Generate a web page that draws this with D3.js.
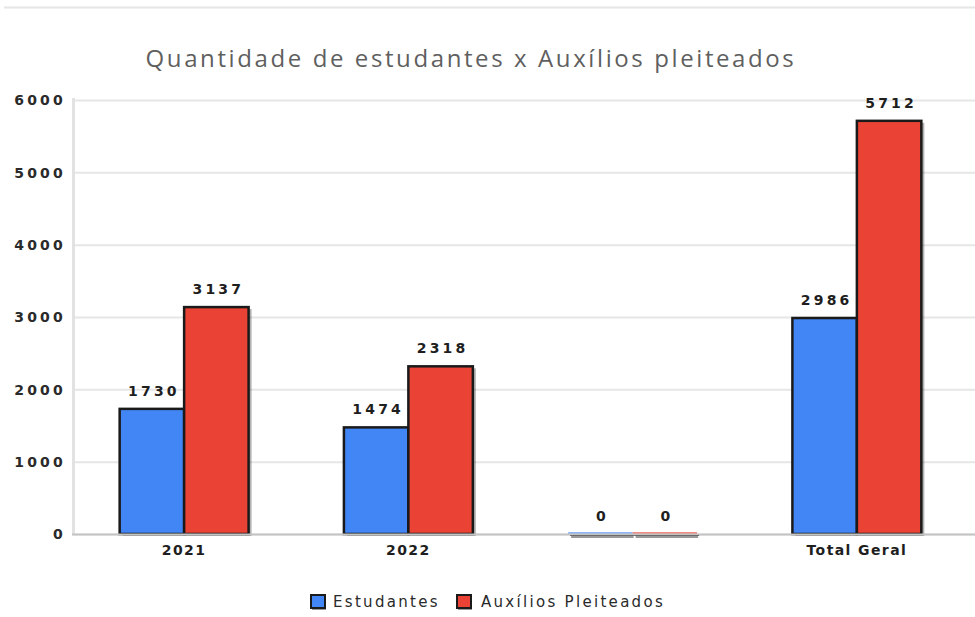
<!DOCTYPE html>
<html><head><meta charset="utf-8">
<script src="https://cdn.jsdelivr.net/npm/d3@7"></script>
<style>
body{margin:0;background:#fff;}
svg{display:block;}
</style></head><body>
<svg id="c" width="975" height="617"></svg>
<script>
const categories = ["2021", "2022", "", "Total Geral"];
const seriesNames = ["Estudantes", "Auxílios Pleiteados"];
const estudantes = [1730, 1474, 0, 2986];
const auxilios = [3137, 2318, 0, 5712];
const yTicks = [0, 1000, 2000, 3000, 4000, 5000, 6000];
const colors = ["#4285f4", "#ea4335"];

(function(){
const svg = d3.select("#c");
const W = 975, H = 617;
const mLeft = 72, mRight = 969, mTop = 100, mBottom = 534;

const x = d3.scaleBand().domain(categories).range([mLeft, mRight]).paddingInner(0.425).paddingOuter(0.2125);
const xs = d3.scaleBand().domain(seriesNames).range([0, x.bandwidth()]);
const y = d3.scaleLinear().domain([0, 6000]).range([mBottom, mTop]);

// top border
svg.append("line").attr("x1", 4).attr("x2", W).attr("y1", 7.5).attr("y2", 7.5)
  .attr("stroke", "#e6e6e6").attr("stroke-width", 2);

// title
svg.append("text").attr("x", 471).attr("y", 67).attr("text-anchor", "middle")
  .attr("font-family", "Open Sans, sans-serif").attr("font-size", 24).attr("fill", "#5f5f5f")
  .attr("letter-spacing", 2.6)
  .text("Quantidade de estudantes x Auxílios pleiteados");

// gridlines & y axis
const yAxis = d3.axisLeft(y).tickValues(yTicks).tickSize(-(W - mLeft)).tickFormat(d3.format("d"));
const ga = svg.append("g").attr("transform", `translate(${mLeft},0)`).call(yAxis);
ga.select(".domain").remove();
ga.selectAll(".tick line").attr("stroke", "#e6e6e6").attr("stroke-width", 2);
ga.selectAll(".tick text").attr("x", -6).attr("dy", "0.35em")
  .attr("font-family", "DejaVu Sans, sans-serif").attr("font-size", 14).attr("font-weight", "bold")
  .attr("fill", "#2a2a2a").attr("letter-spacing", 3.2);

// y axis vertical line
svg.append("line").attr("x1", mLeft + 1.5).attr("x2", mLeft + 1.5).attr("y1", y(6000) - 2).attr("y2", mBottom)
  .attr("stroke", "#e2e2e2").attr("stroke-width", 3);

// bars
const data = [];
categories.forEach((c, i) => {
  data.push({cat: c, s: seriesNames[0], v: estudantes[i], col: colors[0]});
  data.push({cat: c, s: seriesNames[1], v: auxilios[i], col: colors[1]});
});

const bars = svg.append("g");
bars.selectAll("rect.sh").data(data.filter(d => d.v > 0)).join("rect").attr("class", "sh")
  .attr("x", d => x(d.cat) + xs(d.s) + 3)
  .attr("y", d => y(d.v) + 2)
  .attr("width", xs.bandwidth())
  .attr("height", d => mBottom - y(d.v))
  .attr("fill", "#000").attr("opacity", 0.3);
bars.selectAll("rect.b").data(data.filter(d => d.v > 0)).join("rect").attr("class", "b")
  .attr("x", d => x(d.cat) + xs(d.s))
  .attr("y", d => y(d.v))
  .attr("width", xs.bandwidth())
  .attr("height", d => mBottom - y(d.v))
  .attr("fill", d => d.col).attr("stroke", "#1a1a1a").attr("stroke-width", 2.5);

// baseline
svg.append("line").attr("x1", mLeft).attr("x2", W).attr("y1", mBottom + 0.5).attr("y2", mBottom + 0.5)
  .attr("stroke", "#c4c4c4").attr("stroke-width", 2);

// zero bars
const zeros = data.filter(d => d.v === 0);
bars.selectAll("rect.z1").data(zeros).join("rect").attr("class", "z1")
  .attr("x", d => x(d.cat) + xs(d.s)).attr("y", mBottom - 2).attr("width", xs.bandwidth()).attr("height", 2)
  .attr("fill", d => d.col).attr("opacity", 0.6);
bars.selectAll("rect.z2").data(zeros).join("rect").attr("class", "z2")
  .attr("x", d => x(d.cat) + xs(d.s) + 2).attr("y", mBottom).attr("width", xs.bandwidth()).attr("height", 2)
  .attr("fill", "#111");
bars.selectAll("rect.z3").data(zeros).join("rect").attr("class", "z3")
  .attr("x", d => x(d.cat) + xs(d.s) + 3).attr("y", mBottom + 2).attr("width", xs.bandwidth() - 2).attr("height", 2)
  .attr("fill", "#999");

// value labels
svg.append("g").selectAll("text").data(data).join("text")
  .attr("x", d => x(d.cat) + xs(d.s) + xs.bandwidth() / 2 + 2)
  .attr("y", d => y(d.v) - 13)
  .attr("text-anchor", "middle")
  .attr("font-family", "DejaVu Sans, sans-serif").attr("font-size", 14).attr("font-weight", "bold")
  .attr("fill", "#1e1e1e").attr("letter-spacing", 3.2)
  .text(d => d.v);

// category labels
svg.append("g").selectAll("text").data(categories).join("text")
  .attr("x", d => x(d) + x.bandwidth() / 2)
  .attr("y", 555)
  .attr("text-anchor", "middle")
  .attr("font-family", "DejaVu Sans, sans-serif").attr("font-size", 14).attr("font-weight", "bold")
  .attr("fill", "#1e1e1e").attr("letter-spacing", 1.4)
  .text(d => d);

// legend
const lg = svg.append("g");
const legendItems = [
  {name: seriesNames[0], col: colors[0], x: 311, tx: 333},
  {name: seriesNames[1], col: colors[1], x: 457, tx: 481}
];
legendItems.forEach(it => {
  lg.append("rect").attr("x", it.x + 1).attr("y", 597).attr("width", 14).attr("height", 13).attr("fill", "#999");
  lg.append("rect").attr("x", it.x).attr("y", 595).attr("width", 14).attr("height", 13)
    .attr("fill", it.col).attr("stroke", "#1a1a1a").attr("stroke-width", 2);
  lg.append("text").attr("x", it.tx).attr("y", 607)
    .attr("font-family", "DejaVu Sans, sans-serif").attr("font-size", 15)
    .attr("fill", "#2a2a2a").attr("letter-spacing", 2.3)
    .text(it.name);
});
})();
</script>
</body></html>
